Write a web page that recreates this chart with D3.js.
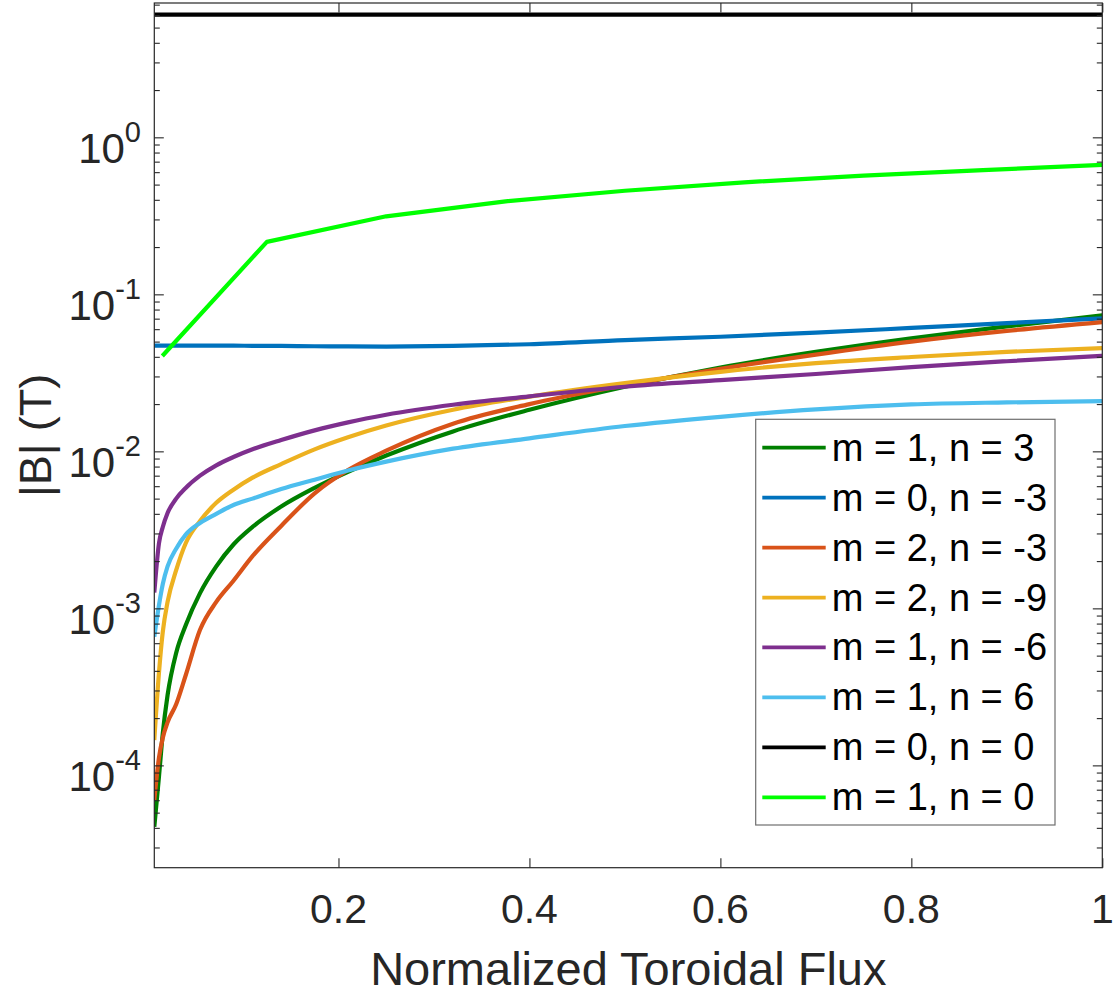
<!DOCTYPE html>
<html><head><meta charset="utf-8">
<script src="https://cdn.jsdelivr.net/npm/d3@7"></script>
<style>body{margin:0;background:#fff}svg{display:block}</style>
</head><body>
<script>
// ---- data ----
const xGrid = [0.0071, 0.012, 0.016, 0.021, 0.03, 0.04, 0.055, 0.072, 0.09, 0.11, 0.14, 0.175, 0.21, 0.25, 0.32, 0.4, 0.5, 0.6, 0.7, 0.8, 0.9, 1.0];
const m1n3  = [4.06e-5, 8.5e-5, 1.6e-4, 2.8e-4, 5.2e-4, 7.8e-4, 1.25e-3, 1.85e-3, 2.55e-3, 3.3e-3, 4.45e-3, 5.85e-3, 7.4e-3, 9.4e-3, 0.0134, 0.0184, 0.0258, 0.0342, 0.0430, 0.0525, 0.0625, 0.0735];
const m0nm3 = [0.0472, 0.0472, 0.0472, 0.0472, 0.0472, 0.0472, 0.0472, 0.0471, 0.0471, 0.0470, 0.0469, 0.0467, 0.0466, 0.0465, 0.0469, 0.0481, 0.0511, 0.0537, 0.0570, 0.0611, 0.0656, 0.0703];
const m2nm3 = [6.0e-5, 1.12e-4, 1.5e-4, 1.88e-4, 2.45e-4, 3.75e-4, 7.3e-4, 1.1e-3, 1.5e-3, 2.15e-3, 3.35e-3, 5.4e-3, 7.6e-3, 0.0101, 0.0150, 0.0200, 0.0263, 0.0335, 0.0413, 0.0500, 0.0585, 0.0666];
const m2nm9 = [1.45e-4, 3.9e-4, 7.1e-4, 1.1e-3, 1.75e-3, 2.6e-3, 3.6e-3, 4.7e-3, 5.7e-3, 6.8e-3, 8.3e-3, 0.0103, 0.0123, 0.0146, 0.0184, 0.0223, 0.0272, 0.0321, 0.0365, 0.0399, 0.0430, 0.0455];
const m1nm6 = [1.26e-3, 2.6e-3, 3.3e-3, 4.05e-3, 5.0e-3, 5.85e-3, 7.0e-3, 8.15e-3, 9.2e-3, 0.0103, 0.0118, 0.0136, 0.0153, 0.0171, 0.0198, 0.0224, 0.0258, 0.0284, 0.0311, 0.0344, 0.0375, 0.0406];
const m1n6  = [6.6e-4, 1.05e-3, 1.43e-3, 1.85e-3, 2.4e-3, 2.95e-3, 3.5e-3, 4.0e-3, 4.55e-3, 5.0e-3, 5.75e-3, 6.6e-3, 7.55e-3, 8.6e-3, 0.0104, 0.0121, 0.0145, 0.0166, 0.0185, 0.0199, 0.0205, 0.0209];
const m0n0X = [0.0071, 1.0];
const m0n0  = [6.04, 6.04];
const m1n0X = [0.0155, 0.125, 0.25, 0.375, 0.5, 0.625, 0.75, 0.875, 1.0];
const m1n0  = [0.0405, 0.216, 0.314, 0.391, 0.457, 0.517, 0.570, 0.619, 0.667];

const seriesLabels = ["m = 1, n = 3", "m = 0, n = -3", "m = 2, n = -3", "m = 2, n = -9", "m = 1, n = -6", "m = 1, n = 6", "m = 0, n = 0", "m = 1, n = 0"];
const seriesColors = ["#008000", "#0072BD", "#D95319", "#EDB120", "#7E2F8E", "#4DBEEE", "#000000", "#00FF00"];
const xTicks = [0.2, 0.4, 0.6, 0.8, 1];
const xTickLabels = ["0.2", "0.4", "0.6", "0.8", "1"];
const yTickExps = [0, -1, -2, -3, -4];
const xDomain = [0.0071, 1];
const yDomain = [2.23e-5, 7.17];
const xTitle = "Normalized Toroidal Flux";
const yTitle = "|B| (T)";

// ---- layout ----
const W = 1119, H = 998;
const L = 154.3, R = 1102.3, T = 3, B = 867.7;
const FONT = "'Liberation Sans', Arial, Helvetica, sans-serif";
const AX = "#262626";

const svg = d3.select("body").append("svg").attr("width", W).attr("height", H)
  .style("font-family", FONT);

const x = d3.scaleLinear().domain(xDomain).range([L, R]);
const y = d3.scaleLog().domain(yDomain).range([B, T]);

svg.append("defs").append("clipPath").attr("id", "clip")
  .append("rect").attr("x", L).attr("y", T).attr("width", R - L).attr("height", B - T);

// ---- series ----
const smooth = [m1n3, m0nm3, m2nm3, m2nm9, m1nm6, m1n6];
const series = smooth.map((vals, i) => ({ xs: xGrid, vs: vals, color: seriesColors[i], curve: d3.curveMonotoneX }));
series.push({ xs: m0n0X, vs: m0n0, color: seriesColors[6], curve: d3.curveLinear });
series.push({ xs: m1n0X, vs: m1n0, color: seriesColors[7], curve: d3.curveLinear });

const gLines = svg.append("g").attr("clip-path", "url(#clip)");
series.forEach(s => {
  const pts = s.xs.map((xv, i) => [xv, s.vs[i]]);
  const line = d3.line().x(d => x(d[0])).y(d => y(d[1])).curve(s.curve);
  gLines.append("path").attr("d", line(pts)).attr("fill", "none")
    .attr("stroke", s.color).attr("stroke-width", 4.2).attr("stroke-linejoin", "round");
});

// ---- axes (box with inward ticks) ----
const majorLen = 9.5, minorLen = 5.5;
const minorVals = [];
for (let e = -5; e <= 0; e++) for (let k = 2; k <= 9; k++) {
  const v = k * Math.pow(10, e);
  if (v >= yDomain[0] && v <= yDomain[1]) minorVals.push(v);
}
const majorVals = yTickExps.map(e => Math.pow(10, e));

function yAxis(side) {
  const xpos = side === "left" ? L : R;
  const mk = () => side === "left" ? d3.axisLeft(y) : d3.axisRight(y);
  const gMaj = svg.append("g").attr("transform", `translate(${xpos},0)`)
    .call(mk().tickValues(majorVals).tickSize(-majorLen).tickFormat(""));
  const gMin = svg.append("g").attr("transform", `translate(${xpos},0)`)
    .call(mk().tickValues(minorVals).tickSize(-minorLen).tickFormat(""));
  [gMaj, gMin].forEach(g => {
    g.select(".domain").remove();
    g.selectAll("line").attr("stroke", AX).attr("stroke-width", 1.1);
  });
}
yAxis("left"); yAxis("right");

function xAxis(side) {
  const gen = side === "bottom" ? d3.axisBottom(x) : d3.axisTop(x);
  const ypos = side === "bottom" ? B : T;
  const g = svg.append("g").attr("transform", `translate(0,${ypos})`)
    .call(gen.tickValues(xTicks).tickSize(-majorLen).tickFormat(""));
  g.select(".domain").remove();
  g.selectAll("line").attr("stroke", AX).attr("stroke-width", 1.1);
}
xAxis("bottom"); xAxis("top");

svg.append("rect").attr("x", L).attr("y", T).attr("width", R - L).attr("height", B - T)
  .attr("fill", "none").attr("stroke", AX).attr("stroke-width", 1.2);

// tick labels
svg.append("g").selectAll("text").data(xTicks).join("text")
  .attr("x", d => x(d)).attr("y", 923).attr("text-anchor", "middle")
  .attr("font-size", 41).attr("fill", AX)
  .text((d, i) => xTickLabels[i]);

const yl = svg.append("g").selectAll("text").data(yTickExps).join("text")
  .attr("x", 141).attr("y", d => y(Math.pow(10, d)) + 25.5)
  .attr("text-anchor", "end").attr("fill", AX);
yl.append("tspan").attr("font-size", 42).text("10");
yl.append("tspan").attr("font-size", 29).attr("dy", -21).text(d => String(d));

// axis titles
svg.append("text").attr("x", (L + R) / 2).attr("y", 985).attr("text-anchor", "middle")
  .attr("font-size", 47).attr("fill", AX).text(xTitle);
svg.append("text").attr("transform", `translate(51,${(T + B) / 2}) rotate(-90)`)
  .attr("text-anchor", "middle").attr("font-size", 45).attr("fill", AX).text(yTitle);

// ---- legend ----
const lg = svg.append("g");
lg.append("rect").attr("x", 755.7).attr("y", 419.3).attr("width", 1055 - 755.7).attr("height", 825 - 419.3)
  .attr("fill", "#fff").attr("stroke", "#6e6e6e").attr("stroke-width", 1.2);
const rowY = d3.scaleLinear().domain([0, seriesLabels.length - 1]).range([447.7, 797.3]);
seriesLabels.forEach((lab, i) => {
  lg.append("line").attr("x1", 762.3).attr("x2", 825.7).attr("y1", rowY(i)).attr("y2", rowY(i))
    .attr("stroke", seriesColors[i]).attr("stroke-width", 3.8);
  lg.append("text").attr("x", 831.7).attr("y", rowY(i) + 13).attr("font-size", 38)
    .attr("fill", "#000").text(lab);
});
</script>
</body></html>
